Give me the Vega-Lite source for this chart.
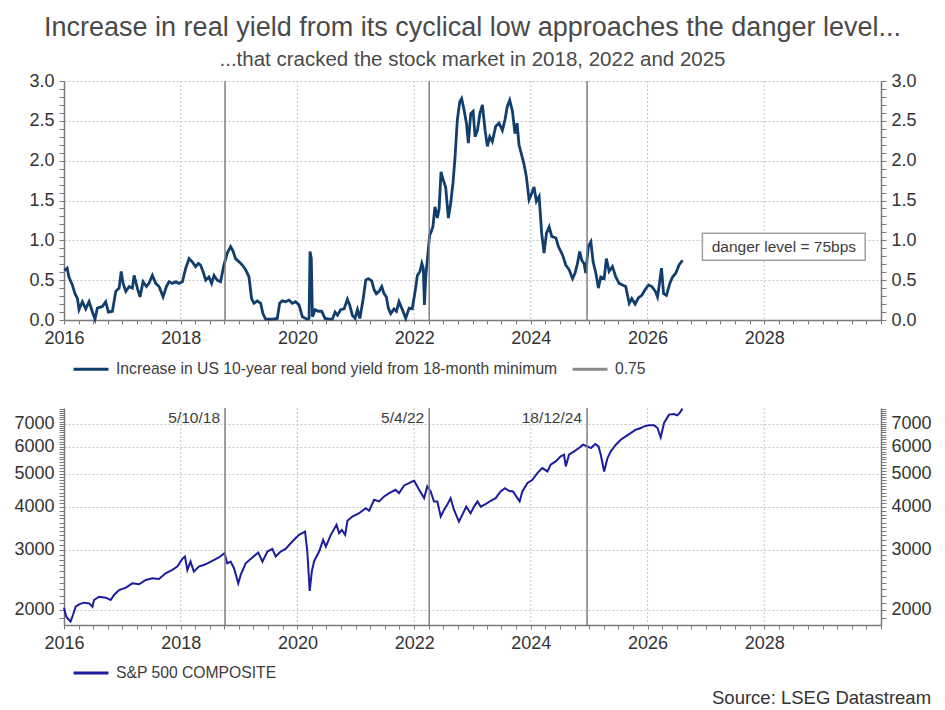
{
  "$schema": "https://vega.github.io/schema/vega-lite/v6.json",
  "background": "white",
  "padding": {"left": 13, "top": 13, "right": 12, "bottom": 5},
  "title": {
    "text": "Increase in real yield from its cyclical low approaches the danger level...",
    "subtitle": "...that cracked the stock market in 2018, 2022 and 2025",
    "anchor": "middle",
    "font": "Liberation Sans",
    "subtitleFont": "Liberation Sans",
    "fontSize": 27,
    "subtitleFontSize": 20.5,
    "fontWeight": "normal",
    "color": "#4a4a4a",
    "subtitleColor": "#4a4a4a",
    "subtitlePadding": 8,
    "offset": 1
  },
  "spacing": 88,
  "bounds": "flush",
  "resolve": {"scale": {"color": "independent"}, "legend": {"color": "independent"}},
  "vconcat": [
    {
      "width": 817,
      "height": 239,
      "resolve": {"axis": {"x": "independent", "y": "independent"}},
      "layer": [
        {
          "data": {"values": [{"date": "2018-01-01"}, {"date": "2020-01-01"}, {"date": "2022-01-01"}, {"date": "2024-01-01"}, {"date": "2026-01-01"}, {"date": "2028-01-01"}]},
          "mark": {"type": "rule", "color": "#c4c4c4", "strokeWidth": 1, "strokeDash": [2, 2]},
          "encoding": {"x": {"field": "date", "type": "temporal", "axis": null}}
        },
        {
          "data": {"values": [
            {"date": "2016-01-04", "value": 0.62}, {"date": "2016-01-21", "value": 0.65}, {"date": "2016-02-01", "value": 0.54},
            {"date": "2016-02-22", "value": 0.44}, {"date": "2016-03-10", "value": 0.33}, {"date": "2016-03-25", "value": 0.27},
            {"date": "2016-04-04", "value": 0.13}, {"date": "2016-04-25", "value": 0.23}, {"date": "2016-05-16", "value": 0.14},
            {"date": "2016-06-06", "value": 0.23}, {"date": "2016-06-27", "value": 0.10}, {"date": "2016-07-13", "value": 0.01},
            {"date": "2016-07-28", "value": 0.15}, {"date": "2016-08-28", "value": 0.17}, {"date": "2016-09-18", "value": 0.23},
            {"date": "2016-10-05", "value": 0.10}, {"date": "2016-10-30", "value": 0.11}, {"date": "2016-11-20", "value": 0.36},
            {"date": "2016-12-11", "value": 0.40}, {"date": "2016-12-24", "value": 0.61}, {"date": "2017-01-05", "value": 0.46},
            {"date": "2017-01-22", "value": 0.36}, {"date": "2017-02-12", "value": 0.42}, {"date": "2017-03-04", "value": 0.40},
            {"date": "2017-03-15", "value": 0.56}, {"date": "2017-04-04", "value": 0.40}, {"date": "2017-04-21", "value": 0.29},
            {"date": "2017-05-10", "value": 0.48}, {"date": "2017-05-31", "value": 0.42}, {"date": "2017-06-16", "value": 0.46},
            {"date": "2017-07-07", "value": 0.56}, {"date": "2017-07-28", "value": 0.46}, {"date": "2017-08-18", "value": 0.42},
            {"date": "2017-09-12", "value": 0.29}, {"date": "2017-10-03", "value": 0.42}, {"date": "2017-10-19", "value": 0.48},
            {"date": "2017-11-09", "value": 0.46}, {"date": "2017-11-30", "value": 0.48}, {"date": "2017-12-20", "value": 0.46},
            {"date": "2018-01-11", "value": 0.48}, {"date": "2018-02-01", "value": 0.65}, {"date": "2018-02-22", "value": 0.77},
            {"date": "2018-03-14", "value": 0.73}, {"date": "2018-04-04", "value": 0.67}, {"date": "2018-04-21", "value": 0.71},
            {"date": "2018-05-05", "value": 0.69}, {"date": "2018-05-20", "value": 0.61}, {"date": "2018-06-06", "value": 0.50},
            {"date": "2018-06-26", "value": 0.54}, {"date": "2018-07-13", "value": 0.46}, {"date": "2018-07-28", "value": 0.56},
            {"date": "2018-08-17", "value": 0.50}, {"date": "2018-09-07", "value": 0.48}, {"date": "2018-09-28", "value": 0.69},
            {"date": "2018-10-19", "value": 0.84}, {"date": "2018-11-09", "value": 0.92}, {"date": "2018-11-23", "value": 0.87},
            {"date": "2018-12-10", "value": 0.77}, {"date": "2019-01-01", "value": 0.73}, {"date": "2019-01-21", "value": 0.69},
            {"date": "2019-02-11", "value": 0.63}, {"date": "2019-03-04", "value": 0.54}, {"date": "2019-03-20", "value": 0.27},
            {"date": "2019-04-04", "value": 0.21}, {"date": "2019-04-25", "value": 0.24}, {"date": "2019-05-16", "value": 0.21},
            {"date": "2019-05-30", "value": 0.08}, {"date": "2019-06-16", "value": 0.01}, {"date": "2019-07-28", "value": 0.01},
            {"date": "2019-08-28", "value": 0.02}, {"date": "2019-09-12", "value": 0.21}, {"date": "2019-09-28", "value": 0.24},
            {"date": "2019-10-19", "value": 0.23}, {"date": "2019-11-09", "value": 0.25}, {"date": "2019-11-30", "value": 0.21},
            {"date": "2019-12-20", "value": 0.23}, {"date": "2020-01-11", "value": 0.19}, {"date": "2020-02-01", "value": 0.04},
            {"date": "2020-03-03", "value": 0.01}, {"date": "2020-03-14", "value": 0.02}, {"date": "2020-03-20", "value": 0.86},
            {"date": "2020-03-28", "value": 0.77}, {"date": "2020-04-04", "value": 0.04}, {"date": "2020-04-21", "value": 0.13},
            {"date": "2020-05-11", "value": 0.11}, {"date": "2020-06-01", "value": 0.11}, {"date": "2020-06-22", "value": 0.02},
            {"date": "2020-07-17", "value": 0.01}, {"date": "2020-08-07", "value": 0.01}, {"date": "2020-08-24", "value": 0.10},
            {"date": "2020-09-08", "value": 0.06}, {"date": "2020-09-28", "value": 0.13}, {"date": "2020-10-19", "value": 0.14},
            {"date": "2020-11-09", "value": 0.26}, {"date": "2020-11-23", "value": 0.19}, {"date": "2020-12-10", "value": 0.06},
            {"date": "2020-12-27", "value": 0.02}, {"date": "2021-01-11", "value": 0.13}, {"date": "2021-01-26", "value": 0.02},
            {"date": "2021-02-16", "value": 0.27}, {"date": "2021-03-04", "value": 0.50}, {"date": "2021-03-20", "value": 0.52},
            {"date": "2021-04-10", "value": 0.49}, {"date": "2021-04-25", "value": 0.38}, {"date": "2021-05-09", "value": 0.33},
            {"date": "2021-05-26", "value": 0.36}, {"date": "2021-06-12", "value": 0.42}, {"date": "2021-06-26", "value": 0.33},
            {"date": "2021-07-11", "value": 0.29}, {"date": "2021-07-23", "value": 0.15}, {"date": "2021-08-07", "value": 0.08},
            {"date": "2021-08-28", "value": 0.14}, {"date": "2021-09-12", "value": 0.11}, {"date": "2021-09-28", "value": 0.23},
            {"date": "2021-10-19", "value": 0.13}, {"date": "2021-11-09", "value": 0.02}, {"date": "2021-11-30", "value": 0.15},
            {"date": "2021-12-20", "value": 0.14}, {"date": "2022-01-07", "value": 0.36}, {"date": "2022-01-21", "value": 0.56},
            {"date": "2022-02-06", "value": 0.61}, {"date": "2022-02-18", "value": 0.71}, {"date": "2022-02-27", "value": 0.65},
            {"date": "2022-03-06", "value": 0.19}, {"date": "2022-03-15", "value": 0.56}, {"date": "2022-03-25", "value": 0.77},
            {"date": "2022-04-08", "value": 1.07}, {"date": "2022-04-14", "value": 1.09}, {"date": "2022-04-28", "value": 1.17},
            {"date": "2022-05-11", "value": 1.42}, {"date": "2022-05-26", "value": 1.28}, {"date": "2022-06-06", "value": 1.40},
            {"date": "2022-06-18", "value": 1.86}, {"date": "2022-07-01", "value": 1.76}, {"date": "2022-07-17", "value": 1.67},
            {"date": "2022-08-03", "value": 1.28}, {"date": "2022-08-17", "value": 1.46}, {"date": "2022-09-01", "value": 1.72},
            {"date": "2022-09-14", "value": 2.05}, {"date": "2022-09-28", "value": 2.51}, {"date": "2022-10-13", "value": 2.74},
            {"date": "2022-10-25", "value": 2.78}, {"date": "2022-11-09", "value": 2.64}, {"date": "2022-11-24", "value": 2.47},
            {"date": "2022-12-06", "value": 2.22}, {"date": "2022-12-21", "value": 2.59}, {"date": "2023-01-05", "value": 2.62},
            {"date": "2023-01-17", "value": 2.30}, {"date": "2023-02-01", "value": 2.38}, {"date": "2023-02-16", "value": 2.59},
            {"date": "2023-03-04", "value": 2.70}, {"date": "2023-03-21", "value": 2.38}, {"date": "2023-04-04", "value": 2.18},
            {"date": "2023-04-19", "value": 2.30}, {"date": "2023-05-05", "value": 2.24}, {"date": "2023-05-26", "value": 2.43},
            {"date": "2023-06-16", "value": 2.47}, {"date": "2023-07-07", "value": 2.38}, {"date": "2023-07-23", "value": 2.51},
            {"date": "2023-08-07", "value": 2.68}, {"date": "2023-08-22", "value": 2.76}, {"date": "2023-09-08", "value": 2.62},
            {"date": "2023-09-24", "value": 2.34}, {"date": "2023-10-07", "value": 2.47}, {"date": "2023-10-19", "value": 2.20},
            {"date": "2023-11-05", "value": 2.07}, {"date": "2023-11-20", "value": 1.95}, {"date": "2023-12-04", "value": 1.80},
            {"date": "2023-12-21", "value": 1.51}, {"date": "2024-01-07", "value": 1.59}, {"date": "2024-01-21", "value": 1.67},
            {"date": "2024-02-05", "value": 1.49}, {"date": "2024-02-22", "value": 1.55}, {"date": "2024-03-09", "value": 1.09},
            {"date": "2024-03-24", "value": 0.84}, {"date": "2024-04-08", "value": 1.09}, {"date": "2024-04-25", "value": 1.17},
            {"date": "2024-05-11", "value": 1.05}, {"date": "2024-06-06", "value": 1.03}, {"date": "2024-06-22", "value": 0.92},
            {"date": "2024-07-17", "value": 0.82}, {"date": "2024-08-07", "value": 0.69}, {"date": "2024-08-28", "value": 0.63},
            {"date": "2024-09-18", "value": 0.52}, {"date": "2024-10-04", "value": 0.59}, {"date": "2024-10-19", "value": 0.71},
            {"date": "2024-11-02", "value": 0.86}, {"date": "2024-11-15", "value": 0.75}, {"date": "2024-11-29", "value": 0.71},
            {"date": "2024-12-10", "value": 0.59}, {"date": "2024-12-26", "value": 0.92}, {"date": "2025-01-11", "value": 0.98},
            {"date": "2025-01-25", "value": 0.73}, {"date": "2025-02-11", "value": 0.59}, {"date": "2025-02-27", "value": 0.40},
            {"date": "2025-03-14", "value": 0.54}, {"date": "2025-04-04", "value": 0.52}, {"date": "2025-04-18", "value": 0.77},
            {"date": "2025-05-05", "value": 0.61}, {"date": "2025-05-26", "value": 0.67}, {"date": "2025-06-16", "value": 0.54},
            {"date": "2025-07-07", "value": 0.46}, {"date": "2025-07-28", "value": 0.44}, {"date": "2025-08-17", "value": 0.42},
            {"date": "2025-09-08", "value": 0.21}, {"date": "2025-09-24", "value": 0.27}, {"date": "2025-10-15", "value": 0.20},
            {"date": "2025-11-05", "value": 0.28}, {"date": "2025-11-26", "value": 0.31}, {"date": "2025-12-16", "value": 0.38},
            {"date": "2026-01-07", "value": 0.44}, {"date": "2026-01-28", "value": 0.42}, {"date": "2026-02-18", "value": 0.36},
            {"date": "2026-03-04", "value": 0.29}, {"date": "2026-03-15", "value": 0.44}, {"date": "2026-03-29", "value": 0.65},
            {"date": "2026-04-11", "value": 0.33}, {"date": "2026-04-29", "value": 0.31}, {"date": "2026-05-20", "value": 0.46},
            {"date": "2026-06-06", "value": 0.54}, {"date": "2026-06-27", "value": 0.59}, {"date": "2026-07-17", "value": 0.69},
            {"date": "2026-08-08", "value": 0.75}
          ]},
          "mark": {"type": "line", "strokeWidth": 2.8},
          "encoding": {
            "x": {
              "field": "date", "type": "temporal", "title": null,
              "scale": {"type": "utc", "nice": false, "domain": [{"year": 2016, "month": 1, "date": 1, "utc": true}, {"year": 2030, "month": 1, "date": 1, "utc": true}]},
              "axis": {
                "values": [
                  {"year": 2016, "month": 1, "date": 1, "utc": true}, {"year": 2016, "month": 4, "date": 1, "utc": true}, {"year": 2016, "month": 7, "date": 1, "utc": true}, {"year": 2016, "month": 10, "date": 1, "utc": true},
                  {"year": 2017, "month": 1, "date": 1, "utc": true}, {"year": 2017, "month": 4, "date": 1, "utc": true}, {"year": 2017, "month": 7, "date": 1, "utc": true}, {"year": 2017, "month": 10, "date": 1, "utc": true},
                  {"year": 2018, "month": 1, "date": 1, "utc": true}, {"year": 2018, "month": 4, "date": 1, "utc": true}, {"year": 2018, "month": 7, "date": 1, "utc": true}, {"year": 2018, "month": 10, "date": 1, "utc": true},
                  {"year": 2019, "month": 1, "date": 1, "utc": true}, {"year": 2019, "month": 4, "date": 1, "utc": true}, {"year": 2019, "month": 7, "date": 1, "utc": true}, {"year": 2019, "month": 10, "date": 1, "utc": true},
                  {"year": 2020, "month": 1, "date": 1, "utc": true}, {"year": 2020, "month": 4, "date": 1, "utc": true}, {"year": 2020, "month": 7, "date": 1, "utc": true}, {"year": 2020, "month": 10, "date": 1, "utc": true},
                  {"year": 2021, "month": 1, "date": 1, "utc": true}, {"year": 2021, "month": 4, "date": 1, "utc": true}, {"year": 2021, "month": 7, "date": 1, "utc": true}, {"year": 2021, "month": 10, "date": 1, "utc": true},
                  {"year": 2022, "month": 1, "date": 1, "utc": true}, {"year": 2022, "month": 4, "date": 1, "utc": true}, {"year": 2022, "month": 7, "date": 1, "utc": true}, {"year": 2022, "month": 10, "date": 1, "utc": true},
                  {"year": 2023, "month": 1, "date": 1, "utc": true}, {"year": 2023, "month": 4, "date": 1, "utc": true}, {"year": 2023, "month": 7, "date": 1, "utc": true}, {"year": 2023, "month": 10, "date": 1, "utc": true},
                  {"year": 2024, "month": 1, "date": 1, "utc": true}, {"year": 2024, "month": 4, "date": 1, "utc": true}, {"year": 2024, "month": 7, "date": 1, "utc": true}, {"year": 2024, "month": 10, "date": 1, "utc": true},
                  {"year": 2025, "month": 1, "date": 1, "utc": true}, {"year": 2025, "month": 4, "date": 1, "utc": true}, {"year": 2025, "month": 7, "date": 1, "utc": true}, {"year": 2025, "month": 10, "date": 1, "utc": true},
                  {"year": 2026, "month": 1, "date": 1, "utc": true}, {"year": 2026, "month": 4, "date": 1, "utc": true}, {"year": 2026, "month": 7, "date": 1, "utc": true}, {"year": 2026, "month": 10, "date": 1, "utc": true},
                  {"year": 2027, "month": 1, "date": 1, "utc": true}, {"year": 2027, "month": 4, "date": 1, "utc": true}, {"year": 2027, "month": 7, "date": 1, "utc": true}, {"year": 2027, "month": 10, "date": 1, "utc": true},
                  {"year": 2028, "month": 1, "date": 1, "utc": true}, {"year": 2028, "month": 4, "date": 1, "utc": true}, {"year": 2028, "month": 7, "date": 1, "utc": true}, {"year": 2028, "month": 10, "date": 1, "utc": true},
                  {"year": 2029, "month": 1, "date": 1, "utc": true}, {"year": 2029, "month": 4, "date": 1, "utc": true}, {"year": 2029, "month": 7, "date": 1, "utc": true}, {"year": 2029, "month": 10, "date": 1, "utc": true},
                  {"year": 2030, "month": 1, "date": 1, "utc": true}
                ],
                "labelExpr": "utcmonth(datum.value) == 0 && utcyear(datum.value) % 2 == 0 && utcyear(datum.value) < 2030 ? utcFormat(datum.value, '%Y') : ''",
                "labelOverlap": false, "labelFlush": false, "labelPadding": 5, "tickSize": 4,
                "grid": false
              }
            },
            "y": {
              "field": "value", "type": "quantitative", "title": null,
              "scale": {"domain": [0, 3], "nice": false, "zero": false},
              "axis": {
                "orient": "left",
                "values": [0, 0.1, 0.2, 0.3, 0.4, 0.5, 0.6, 0.7, 0.8, 0.9, 1, 1.1, 1.2, 1.3, 1.4, 1.5, 1.6, 1.7, 1.8, 1.9, 2, 2.1, 2.2, 2.3, 2.4, 2.5, 2.6, 2.7, 2.8, 2.9, 3],
                "labelExpr": "datum.value % 0.5 == 0 ? format(datum.value, '.1f') : ''",
                "labelOverlap": false, "labelFlush": false, "labelPadding": 5, "tickSize": 5,
                "grid": true,
                "gridOpacity": {"condition": {"test": "datum.value % 0.5 == 0", "value": 1}, "value": 0}
              }
            },
            "color": {
              "datum": "Increase in US 10-year real bond yield from 18-month minimum",
              "type": "nominal",
              "scale": {"domain": ["Increase in US 10-year real bond yield from 18-month minimum", "0.75"], "range": ["#123e6e", "#8a8a8a"]},
              "legend": {
                "title": null, "orient": "none", "legendX": 8, "legendY": 269, "direction": "horizontal",
                "symbolType": "stroke", "symbolSize": 1225, "symbolStrokeWidth": 3,
                "labelFont": "Liberation Sans", "labelFontSize": 15.7, "labelColor": "#3c3c3c", "labelLimit": 1000,
                "labelOffset": 6, "columnPadding": 8, "padding": 0
              }
            }
          }
        },
        {
          "mark": {"type": "rule", "strokeWidth": 2},
          "encoding": {
            "y": {
              "datum": 0.75, "type": "quantitative",
              "scale": {"domain": [0, 3], "nice": false, "zero": false},
              "axis": {
                "orient": "right",
                "values": [0, 0.1, 0.2, 0.3, 0.4, 0.5, 0.6, 0.7, 0.8, 0.9, 1, 1.1, 1.2, 1.3, 1.4, 1.5, 1.6, 1.7, 1.8, 1.9, 2, 2.1, 2.2, 2.3, 2.4, 2.5, 2.6, 2.7, 2.8, 2.9, 3],
                "labelExpr": "datum.value % 0.5 == 0 ? format(datum.value, '.1f') : ''",
                "labelOverlap": false, "labelFlush": false, "labelPadding": 5, "tickSize": 5,
                "grid": false
              }
            },
            "color": {"datum": "0.75", "type": "nominal"}
          }
        },
        {
          "data": {"values": [{"date": "2018-10-05"}, {"date": "2022-04-05"}, {"date": "2024-12-18"}]},
          "mark": {"type": "rule", "color": "#7f7f7f", "strokeWidth": 1.5},
          "encoding": {"x": {"field": "date", "type": "temporal", "axis": null}}
        },
        {
          "data": {"values": [{"label": "danger level = 75bps", "start": "2026-12-10", "end": "2029-09-24", "mid": "2028-05-03"}]},
          "layer": [
            {
              "mark": {"type": "rect", "fill": "white", "stroke": "#a0a0a0", "strokeWidth": 1.5},
              "encoding": {
                "x": {"field": "start", "type": "temporal", "axis": null},
                "x2": {"field": "end"},
                "y": {"datum": 0.75, "type": "quantitative", "scale": {"domain": [0, 3], "nice": false, "zero": false}, "axis": null},
                "y2": {"datum": 1.09}
              }
            },
            {
              "mark": {"type": "text", "font": "Liberation Sans", "fontSize": 15.5, "color": "#3c3c3c", "align": "center", "baseline": "middle"},
              "encoding": {
                "x": {"field": "mid", "type": "temporal", "axis": null},
                "y": {"datum": 0.92, "type": "quantitative", "scale": {"domain": [0, 3], "nice": false, "zero": false}, "axis": null},
                "text": {"field": "label"}
              }
            }
          ]
        },
        {
          "mark": {"type": "rule", "strokeWidth": 2, "color": "#8a8a8a"},
          "encoding": {
            "y": {"datum": 0.75, "type": "quantitative", "scale": {"domain": [0, 3], "nice": false, "zero": false}, "axis": null}
          }
        }
      ]
    },
    {
      "width": 817,
      "height": 217,
      "title": {
        "text": "Source: LSEG Datastream", "orient": "bottom", "anchor": "end", "frame": "bounds",
        "font": "Liberation Sans", "fontSize": 18.5, "fontWeight": "normal", "color": "#333333", "offset": 8
      },
      "resolve": {"axis": {"x": "independent", "y": "independent"}},
      "layer": [
        {
          "data": {"values": [{"date": "2018-01-01"}, {"date": "2020-01-01"}, {"date": "2022-01-01"}, {"date": "2024-01-01"}, {"date": "2026-01-01"}, {"date": "2028-01-01"}]},
          "mark": {"type": "rule", "color": "#c4c4c4", "strokeWidth": 1, "strokeDash": [2, 2]},
          "encoding": {"x": {"field": "date", "type": "temporal", "axis": null}}
        },
        {
          "data": {"values": [
            {"date": "2016-01-01", "value": 2031}, {"date": "2016-01-15", "value": 1911}, {"date": "2016-02-11", "value": 1849},
            {"date": "2016-02-26", "value": 1934}, {"date": "2016-03-14", "value": 2045}, {"date": "2016-04-04", "value": 2077},
            {"date": "2016-05-05", "value": 2101}, {"date": "2016-06-06", "value": 2091}, {"date": "2016-06-27", "value": 2045},
            {"date": "2016-07-07", "value": 2139}, {"date": "2016-08-07", "value": 2187}, {"date": "2016-09-18", "value": 2172},
            {"date": "2016-10-19", "value": 2139}, {"date": "2016-11-09", "value": 2212}, {"date": "2016-12-11", "value": 2287},
            {"date": "2017-01-22", "value": 2324}, {"date": "2017-03-04", "value": 2393}, {"date": "2017-04-15", "value": 2377},
            {"date": "2017-05-27", "value": 2448}, {"date": "2017-07-07", "value": 2475}, {"date": "2017-08-18", "value": 2464},
            {"date": "2017-09-28", "value": 2560}, {"date": "2017-11-09", "value": 2618}, {"date": "2017-12-10", "value": 2678},
            {"date": "2018-01-11", "value": 2820}, {"date": "2018-01-27", "value": 2865}, {"date": "2018-02-11", "value": 2618},
            {"date": "2018-03-03", "value": 2769}, {"date": "2018-03-24", "value": 2588}, {"date": "2018-04-24", "value": 2678},
            {"date": "2018-06-05", "value": 2719}, {"date": "2018-07-17", "value": 2781}, {"date": "2018-08-27", "value": 2846},
            {"date": "2018-10-02", "value": 2930}, {"date": "2018-10-19", "value": 2737}, {"date": "2018-11-09", "value": 2769},
            {"date": "2018-11-30", "value": 2648}, {"date": "2018-12-27", "value": 2393}, {"date": "2019-01-11", "value": 2531},
            {"date": "2019-02-11", "value": 2737}, {"date": "2019-03-25", "value": 2846}, {"date": "2019-05-01", "value": 2943},
            {"date": "2019-05-27", "value": 2769}, {"date": "2019-06-27", "value": 2963}, {"date": "2019-07-28", "value": 3017},
            {"date": "2019-08-18", "value": 2865}, {"date": "2019-09-18", "value": 2963}, {"date": "2019-10-19", "value": 3017},
            {"date": "2019-11-30", "value": 3169}, {"date": "2020-01-11", "value": 3314}, {"date": "2020-02-18", "value": 3389},
            {"date": "2020-03-03", "value": 2963}, {"date": "2020-03-18", "value": 2272}, {"date": "2020-03-31", "value": 2588},
            {"date": "2020-04-15", "value": 2781}, {"date": "2020-05-16", "value": 2963}, {"date": "2020-06-10", "value": 3204},
            {"date": "2020-06-27", "value": 3063}, {"date": "2020-07-28", "value": 3314}, {"date": "2020-09-02", "value": 3545},
            {"date": "2020-09-18", "value": 3351}, {"date": "2020-10-05", "value": 3428}, {"date": "2020-10-26", "value": 3314},
            {"date": "2020-11-09", "value": 3641}, {"date": "2020-12-10", "value": 3749}, {"date": "2021-01-21", "value": 3834},
            {"date": "2021-03-04", "value": 3966}, {"date": "2021-03-25", "value": 3896}, {"date": "2021-04-25", "value": 4195},
            {"date": "2021-05-27", "value": 4148}, {"date": "2021-06-27", "value": 4291}, {"date": "2021-07-28", "value": 4388},
            {"date": "2021-09-07", "value": 4487}, {"date": "2021-09-28", "value": 4388}, {"date": "2021-10-30", "value": 4620},
            {"date": "2021-11-30", "value": 4692}, {"date": "2021-12-20", "value": 4746}, {"date": "2022-01-01", "value": 4767},
            {"date": "2022-02-01", "value": 4487}, {"date": "2022-03-04", "value": 4242}, {"date": "2022-03-24", "value": 4588},
            {"date": "2022-04-14", "value": 4437}, {"date": "2022-05-05", "value": 4148}, {"date": "2022-05-26", "value": 4148},
            {"date": "2022-06-16", "value": 3749}, {"date": "2022-07-07", "value": 3923}, {"date": "2022-07-27", "value": 4057},
            {"date": "2022-08-17", "value": 4242}, {"date": "2022-09-07", "value": 3923}, {"date": "2022-10-08", "value": 3625},
            {"date": "2022-10-29", "value": 3791}, {"date": "2022-11-23", "value": 4007}, {"date": "2022-12-20", "value": 3834},
            {"date": "2023-01-11", "value": 4007}, {"date": "2023-02-01", "value": 4148}, {"date": "2023-02-21", "value": 4007},
            {"date": "2023-03-24", "value": 4075}, {"date": "2023-04-25", "value": 4167}, {"date": "2023-05-26", "value": 4242},
            {"date": "2023-06-26", "value": 4437}, {"date": "2023-07-23", "value": 4537}, {"date": "2023-08-17", "value": 4457},
            {"date": "2023-09-11", "value": 4437}, {"date": "2023-10-02", "value": 4291}, {"date": "2023-10-23", "value": 4148},
            {"date": "2023-11-09", "value": 4437}, {"date": "2023-12-10", "value": 4692}, {"date": "2024-01-11", "value": 4799},
            {"date": "2024-02-11", "value": 5019}, {"date": "2024-03-13", "value": 5191}, {"date": "2024-04-14", "value": 5076},
            {"date": "2024-05-04", "value": 5309}, {"date": "2024-06-05", "value": 5430}, {"date": "2024-07-06", "value": 5616},
            {"date": "2024-07-27", "value": 5679}, {"date": "2024-08-07", "value": 5250}, {"date": "2024-08-27", "value": 5679},
            {"date": "2024-09-28", "value": 5808}, {"date": "2024-10-29", "value": 5940}, {"date": "2024-11-23", "value": 6075},
            {"date": "2024-12-21", "value": 6007}, {"date": "2025-01-11", "value": 5940}, {"date": "2025-02-07", "value": 6101},
            {"date": "2025-02-28", "value": 6007}, {"date": "2025-03-14", "value": 5679}, {"date": "2025-04-04", "value": 5076},
            {"date": "2025-04-25", "value": 5553}, {"date": "2025-05-16", "value": 5808}, {"date": "2025-06-16", "value": 6075},
            {"date": "2025-07-17", "value": 6282}, {"date": "2025-08-17", "value": 6424}, {"date": "2025-09-17", "value": 6570},
            {"date": "2025-10-19", "value": 6720}, {"date": "2025-11-19", "value": 6796}, {"date": "2025-12-10", "value": 6873},
            {"date": "2026-01-11", "value": 6919}, {"date": "2026-02-11", "value": 6919}, {"date": "2026-03-04", "value": 6796},
            {"date": "2026-03-24", "value": 6380}, {"date": "2026-04-14", "value": 7030}, {"date": "2026-05-15", "value": 7436},
            {"date": "2026-06-15", "value": 7469}, {"date": "2026-07-06", "value": 7402}, {"date": "2026-07-21", "value": 7519},
            {"date": "2026-08-07", "value": 7742}
          ]},
          "mark": {"type": "line", "strokeWidth": 2},
          "encoding": {
            "x": {
              "field": "date", "type": "temporal", "title": null,
              "scale": {"type": "utc", "nice": false, "domain": [{"year": 2016, "month": 1, "date": 1, "utc": true}, {"year": 2030, "month": 1, "date": 1, "utc": true}]},
              "axis": {
                "values": [
                  {"year": 2016, "month": 1, "date": 1, "utc": true}, {"year": 2016, "month": 4, "date": 1, "utc": true}, {"year": 2016, "month": 7, "date": 1, "utc": true}, {"year": 2016, "month": 10, "date": 1, "utc": true},
                  {"year": 2017, "month": 1, "date": 1, "utc": true}, {"year": 2017, "month": 4, "date": 1, "utc": true}, {"year": 2017, "month": 7, "date": 1, "utc": true}, {"year": 2017, "month": 10, "date": 1, "utc": true},
                  {"year": 2018, "month": 1, "date": 1, "utc": true}, {"year": 2018, "month": 4, "date": 1, "utc": true}, {"year": 2018, "month": 7, "date": 1, "utc": true}, {"year": 2018, "month": 10, "date": 1, "utc": true},
                  {"year": 2019, "month": 1, "date": 1, "utc": true}, {"year": 2019, "month": 4, "date": 1, "utc": true}, {"year": 2019, "month": 7, "date": 1, "utc": true}, {"year": 2019, "month": 10, "date": 1, "utc": true},
                  {"year": 2020, "month": 1, "date": 1, "utc": true}, {"year": 2020, "month": 4, "date": 1, "utc": true}, {"year": 2020, "month": 7, "date": 1, "utc": true}, {"year": 2020, "month": 10, "date": 1, "utc": true},
                  {"year": 2021, "month": 1, "date": 1, "utc": true}, {"year": 2021, "month": 4, "date": 1, "utc": true}, {"year": 2021, "month": 7, "date": 1, "utc": true}, {"year": 2021, "month": 10, "date": 1, "utc": true},
                  {"year": 2022, "month": 1, "date": 1, "utc": true}, {"year": 2022, "month": 4, "date": 1, "utc": true}, {"year": 2022, "month": 7, "date": 1, "utc": true}, {"year": 2022, "month": 10, "date": 1, "utc": true},
                  {"year": 2023, "month": 1, "date": 1, "utc": true}, {"year": 2023, "month": 4, "date": 1, "utc": true}, {"year": 2023, "month": 7, "date": 1, "utc": true}, {"year": 2023, "month": 10, "date": 1, "utc": true},
                  {"year": 2024, "month": 1, "date": 1, "utc": true}, {"year": 2024, "month": 4, "date": 1, "utc": true}, {"year": 2024, "month": 7, "date": 1, "utc": true}, {"year": 2024, "month": 10, "date": 1, "utc": true},
                  {"year": 2025, "month": 1, "date": 1, "utc": true}, {"year": 2025, "month": 4, "date": 1, "utc": true}, {"year": 2025, "month": 7, "date": 1, "utc": true}, {"year": 2025, "month": 10, "date": 1, "utc": true},
                  {"year": 2026, "month": 1, "date": 1, "utc": true}, {"year": 2026, "month": 4, "date": 1, "utc": true}, {"year": 2026, "month": 7, "date": 1, "utc": true}, {"year": 2026, "month": 10, "date": 1, "utc": true},
                  {"year": 2027, "month": 1, "date": 1, "utc": true}, {"year": 2027, "month": 4, "date": 1, "utc": true}, {"year": 2027, "month": 7, "date": 1, "utc": true}, {"year": 2027, "month": 10, "date": 1, "utc": true},
                  {"year": 2028, "month": 1, "date": 1, "utc": true}, {"year": 2028, "month": 4, "date": 1, "utc": true}, {"year": 2028, "month": 7, "date": 1, "utc": true}, {"year": 2028, "month": 10, "date": 1, "utc": true},
                  {"year": 2029, "month": 1, "date": 1, "utc": true}, {"year": 2029, "month": 4, "date": 1, "utc": true}, {"year": 2029, "month": 7, "date": 1, "utc": true}, {"year": 2029, "month": 10, "date": 1, "utc": true},
                  {"year": 2030, "month": 1, "date": 1, "utc": true}
                ],
                "labelExpr": "utcmonth(datum.value) == 0 && utcyear(datum.value) % 2 == 0 && utcyear(datum.value) < 2030 ? utcFormat(datum.value, '%Y') : ''",
                "labelOverlap": false, "labelFlush": false, "labelPadding": 5, "tickSize": 4,
                "grid": false
              }
            },
            "y": {
              "field": "value", "type": "quantitative", "title": null,
              "scale": {"type": "log", "domain": [1808, 7775], "nice": false},
              "axis": {
                "orient": "left",
                "values": [1900, 2000, 2100, 2200, 2300, 2400, 2500, 2600, 2700, 2800, 2900, 3000, 3100, 3200, 3300, 3400, 3500, 3600, 3700, 3800, 3900, 4000, 4100, 4200, 4300, 4400, 4500, 4600, 4700, 4800, 4900, 5000, 5100, 5200, 5300, 5400, 5500, 5600, 5700, 5800, 5900, 6000, 6100, 6200, 6300, 6400, 6500, 6600, 6700, 6800, 6900, 7000, 7100, 7200, 7300, 7400, 7500, 7600, 7700],
                "labelExpr": "datum.value % 1000 == 0 ? format(datum.value, 'd') : ''",
                "labelOverlap": false, "labelFlush": false, "labelPadding": 5, "tickSize": 5,
                "grid": true,
                "gridOpacity": {"condition": {"test": "datum.value % 1000 == 0", "value": 1}, "value": 0}
              }
            },
            "color": {
              "datum": "S&P 500 COMPOSITE",
              "type": "nominal",
              "scale": {"domain": ["S&P 500 COMPOSITE"], "range": ["#1c1c9c"]},
              "legend": {
                "title": null, "orient": "none", "legendX": 8, "legendY": 246, "direction": "horizontal",
                "symbolType": "stroke", "symbolSize": 1225, "symbolStrokeWidth": 3,
                "labelFont": "Liberation Sans", "labelFontSize": 15.7, "labelColor": "#3c3c3c", "labelLimit": 1000,
                "labelOffset": 6, "padding": 0
              }
            }
          }
        },
        {
          "data": {"values": [{"date": "2018-10-05", "label": "5/10/18"}, {"date": "2022-04-05", "label": "5/4/22"}, {"date": "2024-12-18", "label": "18/12/24"}]},
          "mark": {"type": "rule", "color": "#7f7f7f", "strokeWidth": 1.5},
          "encoding": {"x": {"field": "date", "type": "temporal", "axis": null}}
        },
        {
          "data": {"values": [{"date": "2018-10-05", "label": "5/10/18"}, {"date": "2022-04-05", "label": "5/4/22"}, {"date": "2024-12-18", "label": "18/12/24"}]},
          "mark": {"type": "text", "font": "Liberation Sans", "fontSize": 15.5, "color": "#3c3c3c", "align": "right", "baseline": "middle", "dx": -5},
          "encoding": {
            "x": {"field": "date", "type": "temporal", "axis": null},
            "y": {
              "datum": 7250, "type": "quantitative",
              "scale": {"type": "log", "domain": [1808, 7775], "nice": false},
              "axis": {
                "orient": "right",
                "values": [1900, 2000, 2100, 2200, 2300, 2400, 2500, 2600, 2700, 2800, 2900, 3000, 3100, 3200, 3300, 3400, 3500, 3600, 3700, 3800, 3900, 4000, 4100, 4200, 4300, 4400, 4500, 4600, 4700, 4800, 4900, 5000, 5100, 5200, 5300, 5400, 5500, 5600, 5700, 5800, 5900, 6000, 6100, 6200, 6300, 6400, 6500, 6600, 6700, 6800, 6900, 7000, 7100, 7200, 7300, 7400, 7500, 7600, 7700],
                "labelExpr": "datum.value % 1000 == 0 ? format(datum.value, 'd') : ''",
                "labelOverlap": false, "labelFlush": false, "labelPadding": 5, "tickSize": 5,
                "grid": false
              }
            },
            "text": {"field": "label"}
          }
        }
      ]
    }
  ],
  "config": {
    "font": "Liberation Sans",
    "view": {"stroke": null},
    "axisX": {"grid": false},
    "axis": {
      "labelFont": "Liberation Sans",
      "labelFontSize": 18,
      "labelColor": "#333333",
      "domainColor": "#7a7a7a",
      "domainWidth": 1.5,
      "tickColor": "#7a7a7a",
      "tickWidth": 1,
      "gridColor": "#c4c4c4",
      "gridDash": [2, 2],
      "gridWidth": 1
    }
  }
}
